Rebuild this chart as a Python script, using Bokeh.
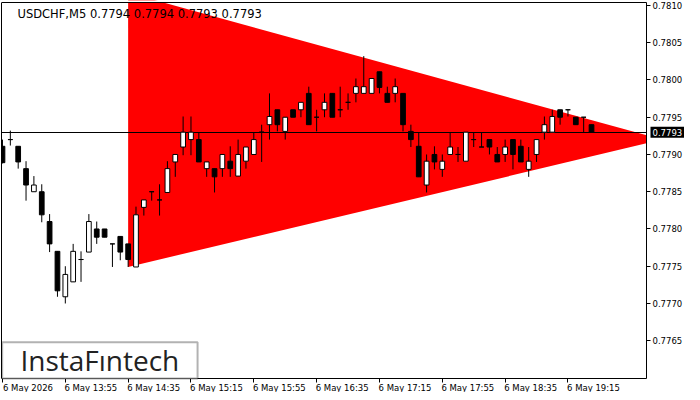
from bokeh.plotting import figure
from bokeh.models import (FixedTicker, PrintfTickFormatter, Label, BoxAnnotation, Range1d,
                          ColumnDataSource, LinearAxis)
from bokeh.embed import file_html
from bokeh.resources import INLINE

symbol = "USDCHF,M5"

opens = [0.77911, 0.77920, 0.77911, 0.77881, 0.77850, 0.77850, 0.77810, 0.77770, 0.77709, 0.77729,
         0.77759, 0.77769, 0.77800, 0.77800, 0.77780, 0.77790, 0.77780, 0.77749, 0.77829, 0.77850,
         0.77839, 0.77849, 0.77890, 0.77910, 0.77920, 0.77920, 0.77881, 0.77881, 0.77881, 0.77891,
         0.77871, 0.77891, 0.77900, 0.77930, 0.77940, 0.77960, 0.77931, 0.77960, 0.77960, 0.77982,
         0.77950, 0.77960, 0.77982, 0.77960, 0.77970, 0.77982, 0.77982, 0.77982, 0.78011, 0.77982,
         0.77982, 0.77982, 0.77931, 0.77911, 0.77859, 0.77900, 0.77880, 0.77900, 0.77900, 0.77891,
         0.77920, 0.77910, 0.77920, 0.77900, 0.77900, 0.77920, 0.77911, 0.77880, 0.77900, 0.77930,
         0.77930, 0.77960, 0.77960, 0.77950, 0.77950, 0.77940]
highs = [0.77920, 0.77932, 0.77911, 0.77891, 0.77871, 0.77860, 0.77820, 0.77770, 0.77750, 0.77780,
         0.77770, 0.77820, 0.77810, 0.77800, 0.77780, 0.77790, 0.77780, 0.77830, 0.77839, 0.77850,
         0.77860, 0.77891, 0.77900, 0.77951, 0.77951, 0.77930, 0.77890, 0.77881, 0.77900, 0.77911,
         0.77920, 0.77910, 0.77930, 0.77940, 0.77982, 0.77960, 0.77950, 0.77960, 0.77970, 0.77991,
         0.77960, 0.77982, 0.77982, 0.77991, 0.77982, 0.78002, 0.78032, 0.78002, 0.78011, 0.77991,
         0.78002, 0.77982, 0.77940, 0.77930, 0.77900, 0.77911, 0.77900, 0.77930, 0.77910, 0.77930,
         0.77930, 0.77930, 0.77920, 0.77910, 0.77920, 0.77920, 0.77920, 0.77910, 0.77920, 0.77951,
         0.77960, 0.77960, 0.77960, 0.77950, 0.77950, 0.77940]
lows = [0.77888, 0.77912, 0.77881, 0.77838, 0.77850, 0.77809, 0.77769, 0.77709, 0.77700, 0.77729,
        0.77729, 0.77769, 0.77780, 0.77789, 0.77749, 0.77758, 0.77749, 0.77749, 0.77818, 0.77838,
        0.77818, 0.77849, 0.77870, 0.77899, 0.77899, 0.77890, 0.77870, 0.77849, 0.77870, 0.77870,
        0.77871, 0.77881, 0.77900, 0.77890, 0.77920, 0.77931, 0.77920, 0.77950, 0.77950, 0.77940,
        0.77931, 0.77950, 0.77950, 0.77950, 0.77960, 0.77970, 0.77982, 0.77982, 0.77982, 0.77970,
        0.77970, 0.77931, 0.77910, 0.77870, 0.77849, 0.77880, 0.77870, 0.77900, 0.77890, 0.77891,
        0.77910, 0.77910, 0.77900, 0.77890, 0.77890, 0.77880, 0.77890, 0.77870, 0.77890, 0.77920,
        0.77930, 0.77940, 0.77951, 0.77940, 0.77930, 0.77930]
closes = [0.77889, 0.77920, 0.77890, 0.77859, 0.77859, 0.77819, 0.77780, 0.77717, 0.77739, 0.77770,
          0.77759, 0.77810, 0.77789, 0.77789, 0.77780, 0.77769, 0.77759, 0.77819, 0.77839, 0.77850,
          0.77839, 0.77881, 0.77900, 0.77930, 0.77930, 0.77890, 0.77890, 0.77870, 0.77900, 0.77881,
          0.77900, 0.77910, 0.77920, 0.77930, 0.77951, 0.77940, 0.77950, 0.77950, 0.77970, 0.77940,
          0.77950, 0.77970, 0.77950, 0.77960, 0.77970, 0.77991, 0.77991, 0.78002, 0.77990, 0.77970,
          0.77991, 0.77940, 0.77920, 0.77870, 0.77891, 0.77890, 0.77891, 0.77910, 0.77900, 0.77930,
          0.77920, 0.77910, 0.77910, 0.77890, 0.77910, 0.77900, 0.77890, 0.77891, 0.77920, 0.77940,
          0.77951, 0.77950, 0.77960, 0.77940, 0.77950, 0.77930]

tick_bars = [0, 8, 16, 24, 32, 40, 48, 56, 64, 72]
tick_labels = ["6 May 2026", "6 May 13:55", "6 May 14:35", "6 May 15:15", "6 May 15:55",
               "6 May 16:35", "6 May 17:15", "6 May 17:55", "6 May 18:35", "6 May 19:15"]
price_ticks = [0.7765, 0.7770, 0.7775, 0.7780, 0.7785, 0.7790, 0.7795, 0.7800, 0.7805, 0.7810]
bid_price = 0.7793

tri_bars = [16, 84, 16]
tri_prices = [0.78117, 0.77920, 0.77749]

# ---- layout ----
x_start, x_end = -0.125, 82.0
y_start, y_end = 0.775993, 0.78104
W, H = 684, 392
border_left, axis_px, top_pad, bottom_pad = 1, 38, 2, 14
plot_w = W - border_left
plot_h = H
x_far = x_start + (x_end - x_start) * plot_w / (plot_w - axis_px)
per_px = (y_end - y_start) / (plot_h - top_pad - bottom_pad)
y_top = y_end + per_px * top_pad
y_bottom = y_start - per_px * bottom_pad
label_shift = 3.25

font = "DejaVu Sans"
fs = "8.5px"

idx = list(range(len(opens)))
tops = [max(o, c) for o, c in zip(opens, closes)]
bottoms = [min(o, c) for o, c in zip(opens, closes)]
fills = ["white" if c > o else "black" for o, c in zip(opens, closes)]
src = ColumnDataSource(dict(x=idx, o=opens, h=highs, l=lows, c=closes, top=tops, bottom=bottoms, fill=fills))

p = figure(width=W, height=H, output_backend="svg", toolbar_location=None,
           x_range=Range1d(x_start, x_far), y_range=Range1d(y_bottom, y_top),
           y_axis_location=None, min_border_left=border_left, min_border_top=0,
           min_border_right=0, min_border_bottom=0)
p.background_fill_color = "white"
p.border_fill_color = "white"
p.outline_line_color = None
p.grid.visible = False

# left frame border
left_ax = LinearAxis(ticker=FixedTicker(ticks=[]), bounds=(y_start, y_end), axis_line_color="black",
                     major_tick_out=0, major_tick_in=0, minor_tick_out=0, minor_tick_in=0,
                     major_label_standoff=0)
p.add_layout(left_ax, "left")

# bottom time axis: tick marks at the bars (minor), labels starting at their tick (major)
shifted = [b + label_shift for b in tick_bars]
x_ax = p.xaxis[0]
x_ax.fixed_location = y_start
x_ax.ticker = FixedTicker(ticks=shifted, minor_ticks=tick_bars)
x_ax.major_label_overrides = {s: t for s, t in zip(shifted, tick_labels)}
x_ax.bounds = (x_start, x_end)
x_ax.axis_line_color = "black"
x_ax.major_tick_line_color = None
x_ax.major_tick_out = 0
x_ax.major_tick_in = 0
x_ax.minor_tick_line_color = "black"
x_ax.minor_tick_out = 4
x_ax.minor_tick_in = 0
x_ax.major_label_standoff = 0
x_ax.major_label_text_font = font
x_ax.major_label_text_font_size = fs
x_ax.major_label_text_color = "black"

# right price axis (at the frame edge)
y_ax = LinearAxis(fixed_location=x_end, ticker=FixedTicker(ticks=price_ticks),
                  formatter=PrintfTickFormatter(format="%.4f"), bounds=(y_start, y_end),
                  axis_line_color="black", major_tick_line_color="black",
                  major_tick_out=4, major_tick_in=0, minor_tick_out=0, minor_tick_in=0,
                  major_label_standoff=2, major_label_text_font=font,
                  major_label_text_font_size=fs, major_label_text_color="black")
p.add_layout(y_ax, "right")

# triangle pattern
p.patch(tri_bars, tri_prices, fill_color="#FF0000", line_color=None)

# bid line
p.hspan(y=[bid_price], line_color="black", line_width=1)

# candles
p.segment(x0="x", y0="l", x1="x", y1="h", source=src, line_color="black", line_width=1)
p.vbar(x="x", top="top", bottom="bottom", width=0.6, source=src,
       fill_color="fill", line_color="black", line_width=1)

# keep price-scale area, top and bottom margins clean
p.quad(left=x_end, right=x_far, bottom=y_bottom, top=y_top, fill_color="white", line_color=None)
p.quad(left=x_start, right=x_far, bottom=y_end, top=y_top, fill_color="white", line_color=None)
p.quad(left=x_start, right=x_far, bottom=y_bottom, top=y_start, fill_color="white", line_color=None)
p.segment(x0=x_start, y0=y_end, x1=x_end, y1=y_end, line_color="black", line_width=1)

# title
title = f"{symbol}  {opens[-1]:.4f} {highs[-1]:.4f} {lows[-1]:.4f} {closes[-1]:.4f}"
p.add_layout(Label(x=x_start, y=y_end, x_offset=16, y_offset=-4, text=title,
                   text_font=font, text_font_size="11.5px", text_color="black",
                   text_baseline="top", text_align="left"))

# current price tag on the price scale
p.add_layout(Label(x=x_end, y=bid_price, x_offset=4, text=f"{bid_price:.4f}",
                   text_font=font, text_font_size=fs, text_color="white",
                   background_fill_color="black", text_baseline="middle", text_align="left",
                   padding=2))

# logo
p.add_layout(BoxAnnotation(left=-0.04, right=24.84, bottom=y_start, top=0.776481,
                           fill_color="white", fill_alpha=1.0, line_color="black", line_width=2))
p.add_layout(Label(x=12.4, y=0.776235, text="InstaFıntech", text_font="Open Sans",
                   text_font_size="28px", text_color="#222222", text_align="center",
                   text_baseline="middle"))

open("out.html", "w").write(file_html(p, INLINE))
